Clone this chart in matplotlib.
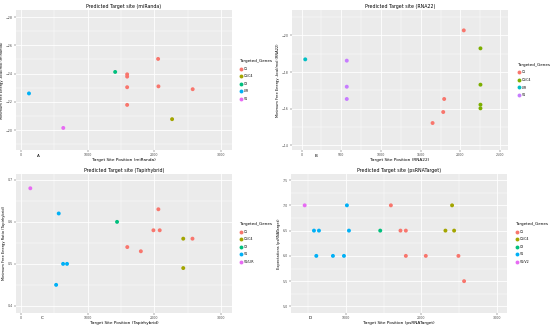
import matplotlib
matplotlib.use('Agg')
import matplotlib.pyplot as plt
from matplotlib.ticker import MultipleLocator
from matplotlib.lines import Line2D

# ggplot default hue colours
hue5 = ['#F8766D', '#A3A500', '#00BF7D', '#00B0F6', '#E76BF3']
hue4 = ['#F8766D', '#7CAE00', '#00BFC4', '#C77CFF']

# panel A - miRanda
a_levels = ['C1', 'C1/C4', 'C3', 'LIR', 'V1']
a_x = [124, 637, 1413, 1592, 1592, 1592, 1592, 2055, 2060, 2572, 2264]
a_y = [-22.6, -20.16, -24.12, -23.95, -23.79, -23.04, -21.79, -25.04, -23.1, -22.9, -20.78]
a_gene = ['LIR', 'V1', 'C3', 'C1', 'C1', 'C1', 'C1', 'C1', 'C1', 'C1', 'C1/C4']

# panel B - RNA22
b_levels = ['C1', 'C1/C4', 'LIR', 'V1']
b_x = [46, 569, 569, 569, 2043, 1796, 1784, 1650, 2253, 2253, 2253, 2253]
b_y = [-18.69, -18.62, -17.2, -16.53, -20.27, -16.53, -15.82, -15.22, -19.29, -17.31, -16.22, -16.02]
b_gene = ['LIR', 'V1', 'V1', 'V1', 'C1', 'C1', 'C1', 'C1', 'C1/C4', 'C1/C4', 'C1/C4', 'C1/C4']

# panel C - Tapirhybrid
c_levels = ['C1', 'C1/C4', 'C3', 'V1', 'V1/LIR']
c_x = [144, 569, 634, 693, 530, 1441, 2059, 1985, 2079, 1594, 1797, 2569, 2431, 2431]
c_y = [0.68, 0.62, 0.50, 0.50, 0.45, 0.60, 0.63, 0.58, 0.58, 0.54, 0.53, 0.56, 0.56, 0.49]
c_gene = ['V1/LIR', 'V1', 'V1', 'V1', 'V1', 'C3', 'C1', 'C1', 'C1', 'C1', 'C1', 'C1',
          'C1/C4', 'C1/C4']

# panel D - psRNATarget
d_levels = ['C1', 'C1/C4', 'C3', 'V1', 'V1/V2']
d_x = [454, 1013, 577, 643, 1040, 608, 828, 974, 1454, 1595, 1722, 1793, 1793, 2057,
       2489, 2564, 2405, 2317, 2432]
d_y = [7.0, 7.0, 6.5, 6.5, 6.5, 6.0, 6.0, 6.0, 6.5, 7.0, 6.5, 6.5, 6.0, 6.0, 6.0, 5.5,
       7.0, 6.5, 6.5]
d_gene = ['V1/V2', 'V1', 'V1', 'V1', 'V1', 'V1', 'V1', 'V1', 'C3', 'C1', 'C1', 'C1', 'C1',
          'C1', 'C1', 'C1', 'C1/C4', 'C1/C4', 'C1/C4']

W, H = 550, 329
fig = plt.figure(figsize=(W / 100, H / 100), dpi=100)


def box(x0, x1, y0, y1):
    return [x0 / W, 1 - y1 / H, (x1 - x0) / W, (y1 - y0) / H]


def panel(rect, xs, ys, genes, levels, colors, name, ylab, xlim, ylim,
          xstep, ystep, letter, letter_xy, leg_xy):
    ax = fig.add_axes(rect)
    ax.set_facecolor('#EBEBEB')
    for s in ax.spines.values():
        s.set_visible(False)
    ax.xaxis.set_major_locator(MultipleLocator(xstep))
    ax.xaxis.set_minor_locator(MultipleLocator(xstep / 2))
    ax.yaxis.set_major_locator(MultipleLocator(ystep))
    ax.yaxis.set_minor_locator(MultipleLocator(ystep / 2))
    ax.grid(which='major', color='white', lw=0.6)
    ax.grid(which='minor', color='white', lw=0.3)
    ax.set_axisbelow(True)
    cmap = dict(zip(levels, colors))
    ax.scatter(xs, ys, c=[cmap[g] for g in genes], s=8, edgecolors='none', zorder=3)
    ax.set_xlim(*xlim)
    ax.set_ylim(*ylim)
    ax.tick_params(which='major', labelsize=2.3, length=1.2, width=0.3,
                   colors='#333333', labelcolor='#4D4D4D', pad=1)
    ax.tick_params(which='minor', length=0)
    ax.set_title('Predicted Target site (%s)' % name, fontsize=3.4, pad=1.5)
    ax.set_xlabel('Target Site Position (%s)' % name, fontsize=3.1, labelpad=1)
    ax.set_ylabel(ylab, fontsize=2.6, labelpad=1.5)
    fig.text(letter_xy[0] / W, 1 - letter_xy[1] / H, letter, fontsize=3.0,
             ha='center', va='center')
    handles = [Line2D([], [], marker='o', ls='none', color=cmap[l], markersize=2.8,
                      markeredgewidth=0) for l in levels]
    leg = fig.legend(handles, levels, title='Targeted_Genes', loc='center left',
                     bbox_to_anchor=(leg_xy[0] / W, 1 - leg_xy[1] / H),
                     frameon=False, fontsize=2.3, title_fontsize=3.0,
                     handlelength=1.2, handletextpad=0.3, labelspacing=1.1,
                     borderaxespad=0)
    leg._legend_box.align = 'left'
    return ax


panel(box(16, 232, 10, 150), a_x, a_y, a_gene, a_levels, hue5, 'miRanda',
      'Minimum Free Energy -kcal/mol (miRanda)', (-70, 3160), (-18.6, -28.5),
      1000, 2, 'A', (38, 156), (238, 80))
panel(box(292, 508, 10, 150), b_x, b_y, b_gene, b_levels, hue4, 'RNA22',
      'Minimum Free Energy -kcal/mol (RNA22)', (-121, 2600), (-13.75, -21.38),
      500, 2, 'B', (316, 156), (516, 80))
panel(box(16, 232, 174, 313), c_x, c_y, c_gene, c_levels, hue5, 'Tapirhybrid',
      'Minimum Free Energy Ratio (Tapirhybrid)', (-70, 3160), (0.383, 0.714),
      1000, 0.1, 'C', (42, 318), (238, 243))
panel(box(291, 507, 174, 313), d_x, d_y, d_gene, d_levels, hue5, 'psRNATarget',
      'Expectations (psRNATarget)', (273, 3132), (4.87, 7.62),
      1000, 0.5, 'D', (310, 318), (514, 243))

fig.savefig('out.png', dpi=100)
